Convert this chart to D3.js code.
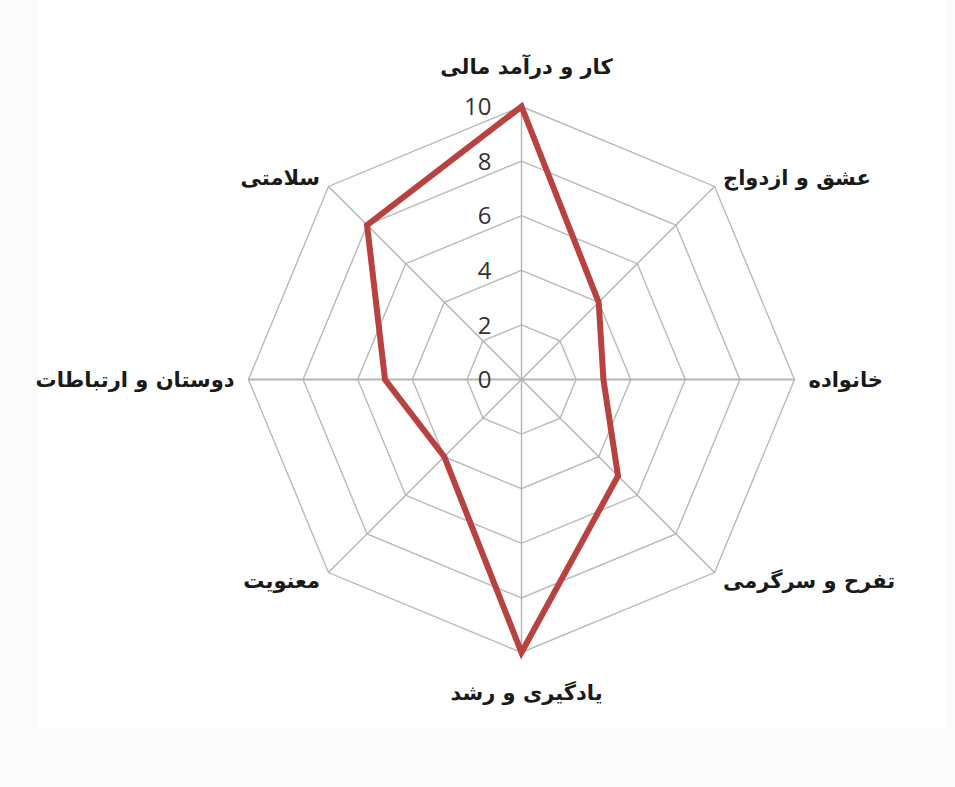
<!DOCTYPE html>
<html>
<head>
<meta charset="utf-8">
<script src="https://cdn.jsdelivr.net/npm/d3@7/dist/d3.min.js"></script>
<style>
  html, body { margin: 0; padding: 0; background: #fbfbfb; }
  svg { display: block; }
</style>
</head>
<body>
<svg id="chart" width="955" height="787"></svg>
<script>
// Data (clockwise from top)
const categories = [
  "کار و درآمد مالی",
  "عشق و ازدواج",
  "خانواده",
  "تفرح و سرگرمی",
  "یادگیری و رشد",
  "معنویت",
  "دوستان و ارتباطات",
  "سلامتی"
];
const values = [10, 4, 3, 5, 10, 4, 5, 8];
const tickValues = [0, 2, 4, 6, 8, 10];
const tickLabels = ["0", "2", "4", "6", "8", "10"];

const svg = d3.select("#chart");
svg.append("rect").attr("x", 38).attr("y", 0).attr("width", 907).attr("height", 728).attr("fill", "#ffffff");

const cx = 521.5, cy = 379.5;
const r = d3.scaleLinear().domain([0, 10]).range([0, 273]);
const angle = d3.scaleLinear().domain([0, categories.length]).range([0, 2 * Math.PI]);

const g = svg.append("g").attr("transform", `translate(${cx},${cy})`);

// grid rings
const ring = d3.lineRadial().curve(d3.curveLinearClosed)
  .angle((d, i) => angle(i)).radius(d => r(d));
tickValues.filter(t => t > 0).forEach(t => {
  g.append("path")
    .attr("d", ring(categories.map(() => t)))
    .attr("fill", "none")
    .attr("stroke", "#b9b9b9")
    .attr("stroke-width", 1.4);
});

// spokes
categories.forEach((c, i) => {
  const a = angle(i);
  g.append("line")
    .attr("x1", 0).attr("y1", 0)
    .attr("x2", r(10) * Math.sin(a)).attr("y2", -r(10) * Math.cos(a))
    .attr("stroke", "#b3b3b3")
    .attr("stroke-width", i % 4 === 2 ? 2 : 1.4);
});

// tick labels
g.selectAll("text.tick").data(tickValues).join("text")
  .attr("class", "tick")
  .attr("x", -30)
  .attr("y", d => -r(d))
  .attr("dy", "0.36em")
  .attr("text-anchor", "end")
  .attr("font-family", "Open Sans, Noto Sans, sans-serif")
  .attr("font-size", 24)
  .attr("fill", "#333333")
  .text((d, i) => tickLabels[i]);

// data polygon
g.append("path")
  .attr("d", ring(values))
  .attr("fill", "none")
  .attr("stroke", "#b8423f")
  .attr("stroke-width", 6)
  .attr("stroke-linejoin", "miter");

// category labels
categories.forEach((c, i) => {
  const a = angle(i);
  const s = Math.sin(a), co = Math.cos(a);
  const vertical = Math.abs(s) < 0.01;
  const rr = r(10) + (vertical ? 40 : (Math.abs(co) < 0.01 ? 14 : 12));
  let x = rr * s, y = -rr * co;
  let anchor = vertical ? "middle" : (s > 0 ? "start" : "end");
  if (vertical) x += 5;
  g.append("text")
    .attr("x", x).attr("y", y)
    .attr("dy", "0.35em")
    .attr("text-anchor", anchor)
    .attr("direction", "ltr")
    .attr("font-family", "DejaVu Sans, sans-serif")
    .attr("font-weight", "bold")
    .attr("font-size", 21)
    .attr("fill", "#1a1a1a")
    .text(c);
});
</script>
</body>
</html>
